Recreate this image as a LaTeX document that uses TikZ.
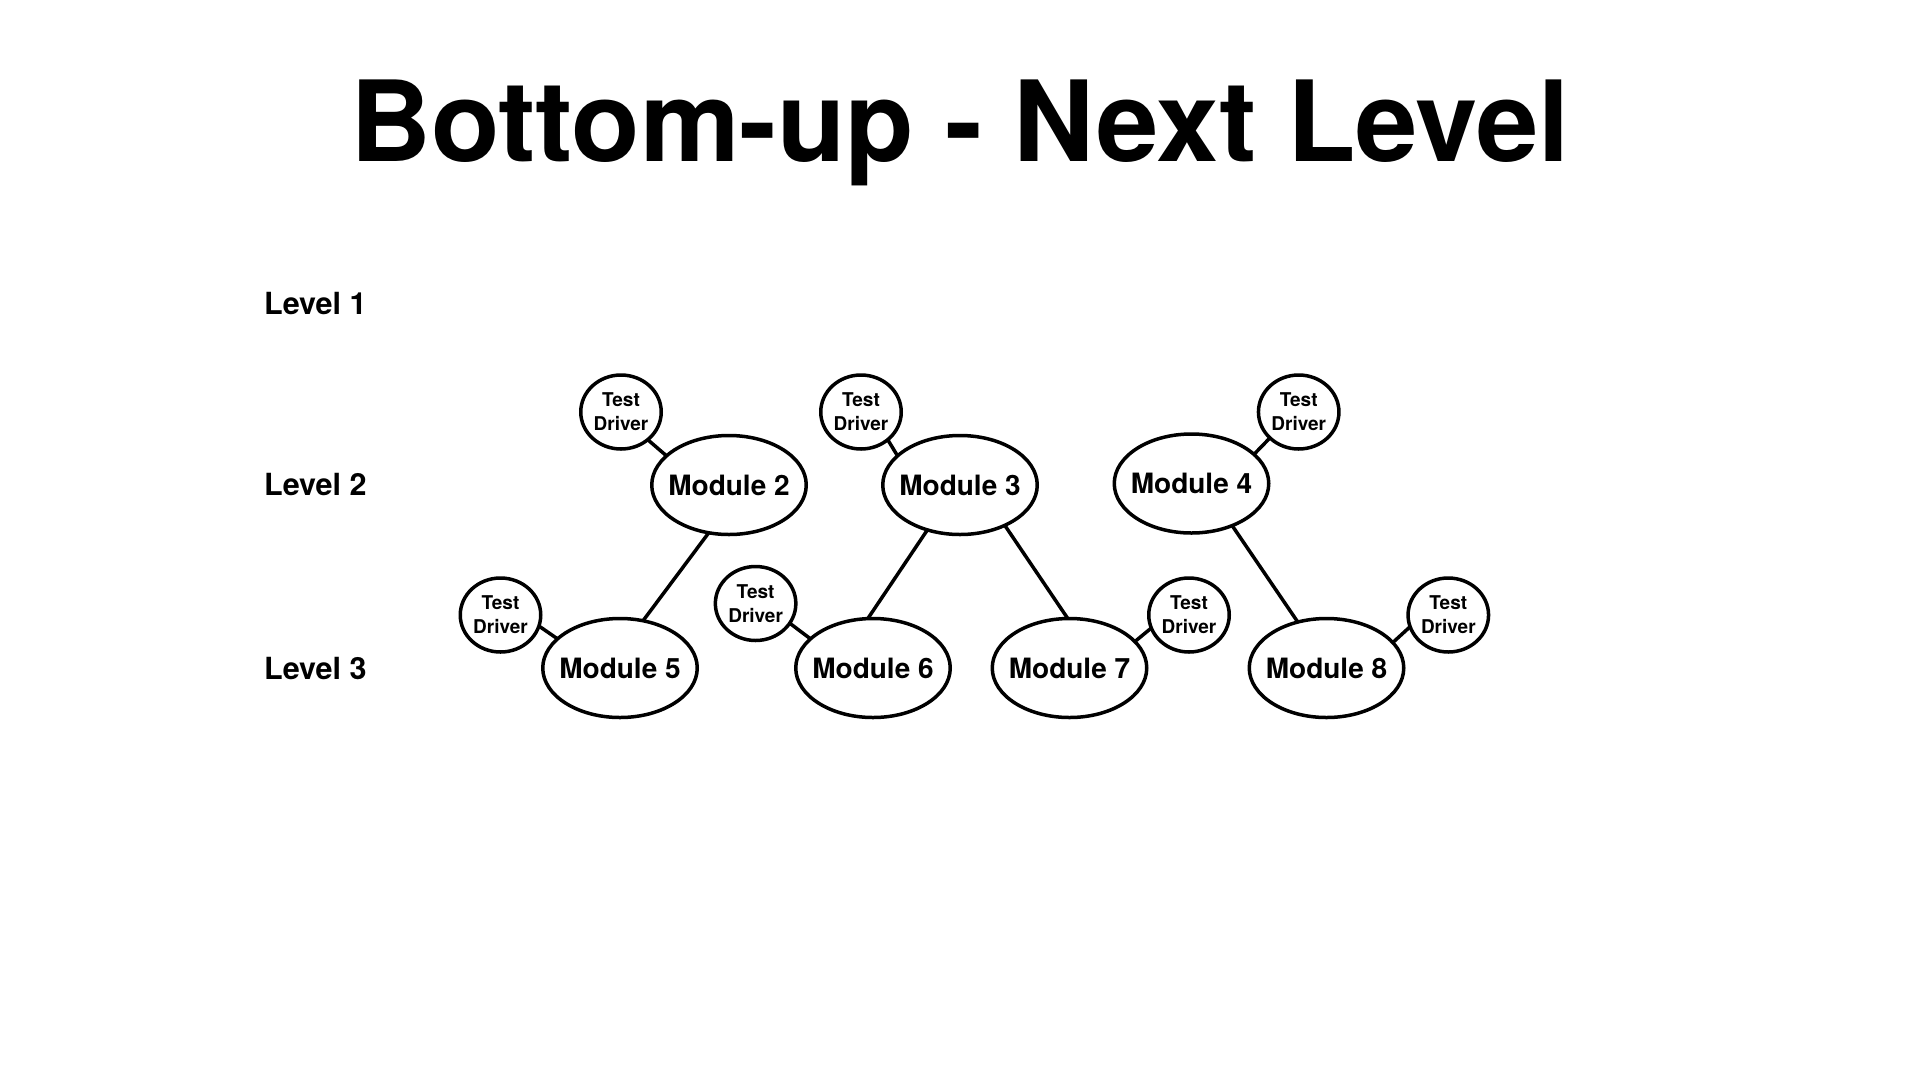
\documentclass[tikz,border=0pt]{standalone}
\usepackage{fontspec}
\setmainfont{TeX Gyre Heros}
\usetikzlibrary{shapes.geometric}
\tikzset{
  module/.style={draw, line width=3.5pt, ellipse, minimum width=154.5pt, minimum height=99pt, inner sep=0pt, outer sep=0pt,
    label={[inner sep=0pt, font=\fontsize{28}{32}\selectfont\bfseries]center:#1}},
  driver/.style={draw, line width=3.5pt, ellipse, minimum width=80.5pt, minimum height=74pt, inner sep=0pt, outer sep=0pt, align=center, font=\fontsize{19}{24}\selectfont\bfseries},
  levellabel/.style={anchor=base west, inner sep=0pt, font=\fontsize{30.5}{34}\selectfont\bfseries},
  link/.style={line width=3.5pt}
}
\begin{document}
\begin{tikzpicture}[x=1pt,y=-1pt]
\fill[white] (0,0) rectangle (1920,1080);
\useasboundingbox (0,0) rectangle (1920,1080);
\node[anchor=base, inner sep=0pt, font=\fontsize{112}{120}\selectfont\bfseries] (title) at (960,161) {Bottom-up - Next Level};
\node[levellabel] (l1) at (264,314) {Level 1};
\node[levellabel] (l2) at (264,495.5) {Level 2};
\node[levellabel] (l3) at (264,679) {Level 3};
% modules
\node[module=Module 2] (m2) at (729,485) {};
\node[module=Module 3] (m3) at (960,485) {};
\node[module=Module 4] (m4) at (1191.5,483.5) {};
\node[module=Module 5] (m5) at (620,668) {};
\node[module=Module 6] (m6) at (873,668) {};
\node[module=Module 7] (m7) at (1069.5,668) {};
\node[module=Module 8] (m8) at (1326.5,668) {};
% test drivers
\node[driver] (t2) at (621,412) {Test\\Driver};
\node[driver] (t3) at (861,412) {Test\\Driver};
\node[driver] (t4) at (1298.7,412) {Test\\Driver};
\node[driver] (t5) at (500.5,615) {Test\\Driver};
\node[driver] (t6) at (755.6,603.5) {Test\\Driver};
\node[driver] (t7) at (1189,615) {Test\\Driver};
\node[driver] (t8) at (1448.3,615) {Test\\Driver};
% module links
\draw[link] (m2.-113.7) -- (m5.64.6);
\draw[link] (m3.-126) -- (m6.96.4);
\draw[link] (m3.-42.4) -- (m7.92.7);
\draw[link] (m4.-46.3) -- (m8.122.6);
% driver links
\draw[link] (t2.-46) -- (m2.155);
\draw[link] (t3.-46) -- (m3.155);
\draw[link] (t4.-138) -- (m4.25.5);
\draw[link] (t5.-16) -- (m5.155.6);
\draw[link] (t6.-30.5) -- (m6.155);
\draw[link] (t7.-161.5) -- (m7.22.6);
\draw[link] (t8.-163) -- (m8.21);
\end{tikzpicture}
\end{document}
